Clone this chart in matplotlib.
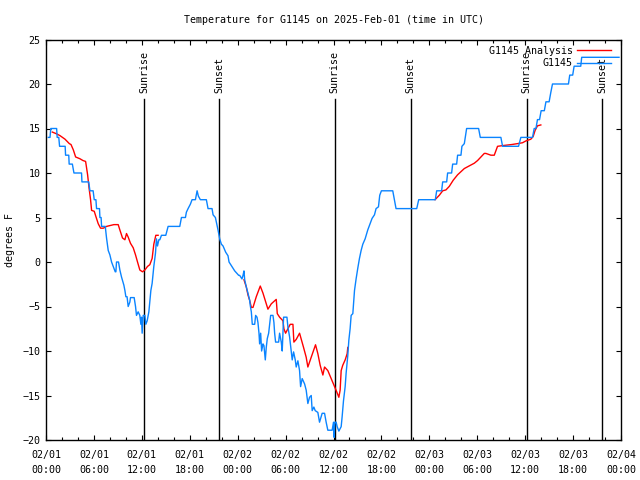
import numpy as np
import pandas as pd
import matplotlib
matplotlib.use("Agg")
import matplotlib.pyplot as plt
import matplotlib.dates as mdates

plt.rcParams['font.family'] = ['DejaVu Sans Mono']
FS = 7.2

start = pd.Timestamp('2025-02-01 00:00')

# G1145 observations: hours after start, temperature (F)
obs_hours = [0.29, 0.5, 0.6, 0.8, 1.33, 1.4, 1.6, 1.7, 2.4, 2.45, 2.85, 2.9, 3.3, 3.5,
             4.45, 4.5, 5.35, 5.5, 5.9, 6.04, 6.25, 6.33, 6.7, 6.75, 6.9, 6.96, 7.42,
             7.58, 7.79, 8.0, 8.21, 8.42, 8.67, 8.75, 8.83, 9.08, 9.25, 9.46, 9.75, 9.88,
             10.0, 10.15, 10.29, 10.5, 10.58, 11.04, 11.21, 11.33, 11.54, 11.75, 11.88,
             11.96, 12.04, 12.17, 12.38, 12.5, 12.67, 12.88, 13.13, 13.29, 13.5, 13.71,
             13.83, 13.96, 14.13, 14.25, 14.46, 15.0, 15.29, 16.75, 16.96, 17.46, 17.58,
             17.79, 18.08, 18.29, 18.71, 18.92, 19.08, 19.33, 20.08, 20.29, 20.79, 20.92,
             21.21, 21.33, 21.54, 21.75, 21.96, 22.17, 22.5, 22.79, 22.92, 23.21, 23.63,
             24.13, 24.25, 24.54, 24.67, 24.79, 24.88, 25.08, 25.29, 25.5, 25.58, 25.71,
             25.83, 26.13, 26.25, 26.42, 26.54, 26.67, 26.75, 26.88, 27.0, 27.17, 27.29,
             27.46, 27.58, 27.71, 27.88, 28.13, 28.42, 28.54, 28.63, 28.75, 29.13, 29.25,
             29.38, 29.46, 29.58, 29.75, 30.17, 30.29, 30.5, 30.71, 30.83, 31.0, 31.21,
             31.33, 31.54, 31.75, 31.88, 32.08, 32.38, 32.58, 32.79, 33.0, 33.21, 33.33,
             33.54, 33.71, 34.04, 34.25, 34.58, 34.88, 35.08, 35.29, 35.83, 36.0, 36.08,
             36.17, 36.33, 36.46, 36.67, 36.96, 37.08, 37.25, 37.46, 37.58, 37.79, 37.92,
             38.08, 38.21, 38.42, 38.63, 38.83, 39.04, 39.25, 39.46, 39.67, 39.96, 40.29,
             40.58, 40.83, 41.13, 41.33, 41.63, 41.79, 42.0, 43.42, 43.63, 43.83, 43.92,
             46.42, 46.67, 48.75, 48.92, 49.54, 49.67, 50.17, 50.29, 50.79, 50.92, 51.42,
             51.54, 51.96, 52.08, 52.38, 52.67, 54.17, 54.38, 56.96, 57.17, 59.17, 59.46,
             60.92, 61.13, 61.35, 61.54, 61.8, 62.0, 62.4, 62.6, 63.0, 63.2, 63.42, 65.42,
             65.58, 65.95, 66.13, 66.96, 67.08, 71.75]
obs_temps = [14, 14, 15, 15, 15, 14, 14, 13, 13, 12, 12, 11, 11, 10,
             10, 9, 9, 8, 8, 7, 7, 6, 6, 5, 5, 4, 4,
             2.7, 1.3, 0.8, 0, -0.5, -1.1, -1.1, 0, 0, -0.9, -1.7, -2.6, -3.2,
             -3.9, -3.9, -5, -4.5, -4, -4, -5, -6, -5.6, -6, -7,
             -6.2, -8, -6, -6, -7, -6.6, -5.6, -3.2, -2.4, -0.5, 1,
             2.6, 1.8, 2.5, 2.5, 3, 3, 4, 4, 5, 5, 5.6,
             6, 6.5, 7, 7, 8, 7.4, 7, 7, 6, 6, 5.3,
             5, 4.5, 3.6, 2.6, 2, 1.8, 1.1, 0.7, 0, -0.4, -1,
             -1.5, -1.5, -1.9, -1.5, -1, -2, -2.8, -3.5, -4.3, -4.9, -5.6,
             -7, -7, -6, -6.2, -6.8, -8, -9.2, -8, -10, -9.2, -9.4,
             -11, -9.6, -8.6, -8, -6, -6, -6.8, -8, -9, -9, -8,
             -8.6, -9, -10, -6.2, -6.2, -7.3, -8.4, -10.1, -11, -10.1, -11,
             -11.8, -11.1, -12.2, -14, -13.1, -13.7, -14.4, -15.9, -15.2, -15, -16.7,
             -16.3, -16.7, -16.9, -18, -17, -17, -18, -18.9, -18.9, -18, -19.7,
             -18, -18, -18.5, -19, -18.5, -17.4, -15.6, -14, -12.5, -10.5, -8.8,
             -7.5, -6, -5.8, -3.2, -1.9, -0.7, 0.4, 1.3, 2, 2.6, 3.6,
             4.3, 4.9, 5.3, 6, 6.2, 7.5, 8, 8, 7, 6, 6,
             6, 7, 7, 8, 8, 9, 9, 10, 10, 11, 11,
             12, 12, 13, 13.3, 15, 15, 14, 14, 13, 13, 14,
             14, 15, 15, 16, 16, 17, 17, 18, 18, 19, 20, 20,
             21, 21, 22, 22, 23, 23]

# G1145 Analysis (nan = gap)
ana_hours = [0.79, 1.33, 1.75, 2.38, 2.92, 3.13, 3.42, 3.71, 4.25, 4.63, 4.96, 5.21,
             5.38, 5.58, 5.71, 6.04, 6.25, 6.54, 6.83, 7.17, 7.58, 8.5, 9.04, 9.25,
             9.58, 9.88, 10.08, 10.29, 10.58, 10.92, 11.21, 11.46, 11.75, 12.08, 12.38,
             12.71, 13.0, 13.29, 13.5, 13.75, 14.04, np.nan,
             24.79, 25.08, 25.29, 25.5, 25.71, 25.92, 26.33, 26.83, 27.17, 27.79, 28.21,
             28.83, 28.96, 29.25, 29.67, 29.79, 30.0, 30.29, 30.58, 30.92, 31.04, 31.33,
             31.75, 32.25, 32.58, 32.79, 33.21, 33.75, 34.04, 34.33, 34.67, 34.88, 35.29,
             35.71, 36.13, 36.41, 36.67, 36.83, 36.96, 37.16, 37.46, 37.71, 37.79, np.nan,
             48.71, 49.25, 49.67, 50.08, 50.5, 51.0, 51.54, 52.38, 53.0, 53.63, 54.04,
             54.46, 54.88, 55.08, 55.71, 56.13, 56.54, 57.38, 58.33, 59.04, 59.67, 60.08,
             60.71, 61.0, 61.25, 61.54, 61.96]
ana_temps = [14.6, 14.4, 14.2, 13.8, 13.3, 13.2, 12.6, 11.8, 11.6, 11.4, 11.3, 9.8,
             8.4, 7, 5.8, 5.7, 5.1, 4.3, 3.8, 3.8, 4.0, 4.2, 4.2, 3.6,
             2.7, 2.5, 3.2, 2.8, 2.1, 1.6, 0.8, 0, -0.9, -1.1, -0.9,
             -0.5, -0.3, 0.4, 2, 3, 3, np.nan,
             -2, -2.8, -3.7, -4.3, -5.1, -5.1, -3.9, -2.7, -3.5, -5.3, -4.7,
             -4.2, -5.8, -6.2, -6.6, -7.5, -8, -7.5, -7, -7, -9, -8.7,
             -8, -9.6, -10.7, -11.8, -10.7, -9.3, -10.3, -11.6, -12.7, -11.8, -12.2,
             -13.1, -14, -14.6, -15.2, -14.4, -12.2, -11.6, -11, -10.3, -9.6, np.nan,
             7, 7.5, 8, 8.1, 8.5, 9.2, 9.8, 10.5, 10.8, 11.1, 11.4,
             11.8, 12.2, 12.2, 12, 12, 13, 13.1, 13.2, 13.3, 13.4, 13.6,
             13.8, 14.1, 14.8, 15.3, 15.4]

sun_labels = ['Sunrise', 'Sunset', 'Sunrise', 'Sunset', 'Sunrise', 'Sunset']
sun_hours = [12.29, 21.67, 36.13, 45.67, 60.17, 69.67]


def to_time(h):
    return start + pd.to_timedelta(np.asarray(h, dtype=float), unit='h')


fig = plt.figure(figsize=(6.4, 4.8), dpi=100)
ax = fig.add_axes([46 / 640, 40 / 480, 575 / 640, 400.5 / 480])

for lab, h in zip(sun_labels, sun_hours):
    t = to_time([h])[0]
    ax.axvline(t, ymin=0, ymax=0.852, color='black', lw=1.0, zorder=1)
    ax.text(t, 19.0, lab, rotation=90, ha='center', va='bottom', fontsize=FS, zorder=3)

ax.plot(to_time(ana_hours), ana_temps, color='#ff0000', lw=1.0, label='G1145 Analysis', zorder=2)
ax.plot(to_time(obs_hours), obs_temps, color='#0a84ff', lw=1.0, label='G1145', zorder=2)

ax.set_xlim(start, start + pd.Timedelta(hours=72))
ax.set_ylim(-20, 25)
ax.set_yticks(range(-20, 26, 5))

ax.xaxis.set_major_locator(mdates.HourLocator(byhour=[0, 6, 12, 18]))
ax.xaxis.set_minor_locator(mdates.HourLocator(byhour=range(0, 24, 2)))
ax.xaxis.set_major_formatter(mdates.DateFormatter('%m/%d\n%H:%M'))

ax.tick_params(which='both', direction='in', top=True, right=True, labelsize=FS,
               width=0.8, color='black')
ax.tick_params(which='major', length=3.5)
ax.tick_params(which='minor', length=2.2)
ax.tick_params(axis='x', which='major', pad=7)
ax.tick_params(axis='y', which='major', pad=4)
for lbl in ax.get_xticklabels():
    lbl.set_linespacing(1.6)
for sp in ax.spines.values():
    sp.set_linewidth(1.0)

leg = ax.legend(loc='upper right', bbox_to_anchor=(0.982, 0.985), frameon=False,
                markerfirst=False, fontsize=FS, handlelength=3.4, handletextpad=0.4,
                borderaxespad=0, borderpad=0, labelspacing=0.25)
for txt in leg.get_texts():
    txt.set_ha('right')

fig.text(333.5 / 640, 1 - 20 / 480, 'Temperature for G1145 on 2025-Feb-01 (time in UTC)',
         ha='center', va='center', fontsize=FS)
fig.text(10 / 640, 0.5, 'degrees F', rotation=90, ha='center', va='center', fontsize=FS)

fig.savefig('out.png', dpi=100)
